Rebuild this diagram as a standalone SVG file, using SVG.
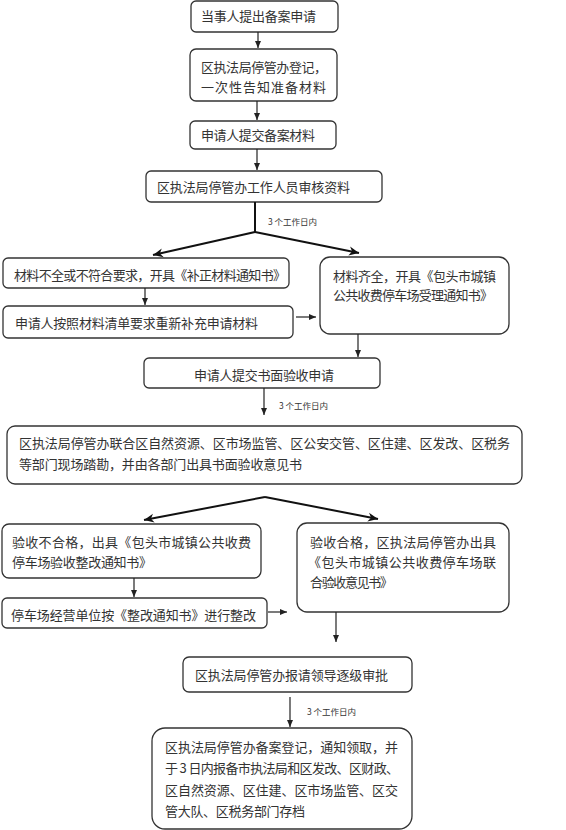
<svg xmlns="http://www.w3.org/2000/svg" width="566" height="830" viewBox="0 0 566 830">
<defs>
<marker id="ah" markerWidth="8" markerHeight="8" refX="7" refY="4" orient="auto" markerUnits="userSpaceOnUse"><path d="M0,1 L7,4 L0,7 z" fill="#222"/></marker>
<marker id="ahb" markerWidth="12" markerHeight="10" refX="10" refY="5" orient="auto" markerUnits="userSpaceOnUse"><path d="M0,0.5 L10,5 L0,9.5 L3,5 z" fill="#111"/></marker>
<style>
rect{fill:#fff;stroke:#333;stroke-width:1.3}
text{font-family:"Noto Sans CJK SC","Noto Sans",sans-serif;font-size:13px;fill:#333}
.s{font-size:8.5px;fill:#333}
.c line{stroke:#222;stroke-width:1.2;marker-end:url(#ah)}
.c .b{stroke:#111;stroke-width:2;marker-end:url(#ahb)}
</style>
</defs>
<rect x="0" y="0" width="566" height="830" style="fill:#fff;stroke:none"/>
<g id="n1"><rect x="191" y="1" width="147" height="31" rx="5"/><text x="201" y="21" textLength="115">当事人提出备案申请</text></g>
<g id="n2"><rect x="190" y="49" width="147" height="52" rx="6"/><text x="201" y="72" textLength="126">区执法局停管办登记，</text><text x="201" y="92" textLength="125">一次性告知准备材料</text></g>
<g id="n3"><rect x="190" y="121" width="146" height="28" rx="5"/><text x="201" y="140" textLength="114">申请人提交备案材料</text></g>
<g id="n4"><rect x="146" y="171" width="236" height="31" rx="5"/><text x="157" y="192" textLength="193">区执法局停管办工作人员审核资料</text></g>
<g id="n5"><rect x="3" y="258" width="286" height="30" rx="5"/><text x="14" y="280" textLength="272">材料不全或不符合要求，开具《补正材料通知书》</text></g>
<g id="n6"><rect x="3" y="306" width="290" height="32" rx="5"/><text x="15" y="328" textLength="243">申请人按照材料清单要求重新补充申请材料</text></g>
<g id="n7"><rect x="320" y="257" width="189" height="77" rx="10"/><text x="333" y="281" textLength="163">材料齐全，开具《包头市城镇</text><text x="333" y="300" textLength="160">公共收费停车场受理通知书》</text></g>
<g id="n8"><rect x="144" y="358" width="236" height="30" rx="5"/><text x="194" y="380" textLength="140">申请人提交书面验收申请</text></g>
<g id="n9"><rect x="7" y="426" width="515" height="58" rx="8"/><text x="19" y="448" textLength="491">区执法局停管办联合区自然资源、区市场监管、区公安交管、区住建、区发改、区税务</text><text x="19" y="469" textLength="283">等部门现场踏勘，并由各部门出具书面验收意见书</text></g>
<g id="n10"><rect x="2" y="524" width="259" height="54" rx="7"/><text x="12" y="547" textLength="239">验收不合格，出具《包头市城镇公共收费</text><text x="12" y="567" textLength="140">停车场验收整改通知书》</text></g>
<g id="n11"><rect x="2" y="598" width="265" height="30" rx="5"/><text x="11" y="620" textLength="245">停车场经营单位按《整改通知书》进行整改</text></g>
<g id="n12"><rect x="297" y="523" width="212" height="89" rx="10"/><text x="310" y="547" textLength="186">验收合格，区执法局停管办出具</text><text x="308" y="567" textLength="188">《包头市城镇公共收费停车场联</text><text x="310" y="587" textLength="83">合验收意见书》</text></g>
<g id="n13"><rect x="183" y="657" width="229" height="35" rx="6"/><text x="195" y="680" textLength="193">区执法局停管办报请领导逐级审批</text></g>
<g id="n14"><rect x="152" y="728" width="260" height="101" rx="13"/><text x="165" y="752" textLength="233">区执法局停管办备案登记，通知领取，并</text><text x="165" y="773" textLength="234">于 3 日内报备市执法局和区发改、区财政、</text><text x="165" y="795" textLength="233">区自然资源、区住建、区市场监管、区交</text><text x="165" y="816" textLength="140">管大队、区税务部门存档</text></g>
<g id="connectors" class="c">
<line x1="258" y1="32" x2="258" y2="48"/>
<line x1="257" y1="101" x2="257" y2="120"/>
<line x1="257" y1="149" x2="257" y2="170"/>
<path d="M255,202 V232" stroke="#111" stroke-width="2" fill="none"/>
<line class="b" x1="255" y1="232" x2="153" y2="255"/>
<line class="b" x1="255" y1="232" x2="359" y2="253"/>
<line x1="145" y1="288" x2="145" y2="305"/>
<line x1="296" y1="317" x2="316" y2="317"/>
<line x1="358" y1="334" x2="358" y2="357"/>
<line x1="264" y1="388" x2="264" y2="415"/>
<path d="M265,497" fill="none"/>
<line class="b" x1="265" y1="497" x2="144" y2="520"/>
<line class="b" x1="265" y1="497" x2="378" y2="519"/>
<line x1="134" y1="578" x2="134" y2="597"/>
<line x1="268" y1="612" x2="287" y2="612"/>
<line x1="336" y1="612" x2="336" y2="642"/>
<line x1="290" y1="697" x2="290" y2="727"/>
<text class="s" x="268" y="225">3 个工作日内</text>
<text class="s" x="279" y="409">3 个工作日内</text>
<text class="s" x="307" y="715">3 个工作日内</text>
</g>
</svg>
